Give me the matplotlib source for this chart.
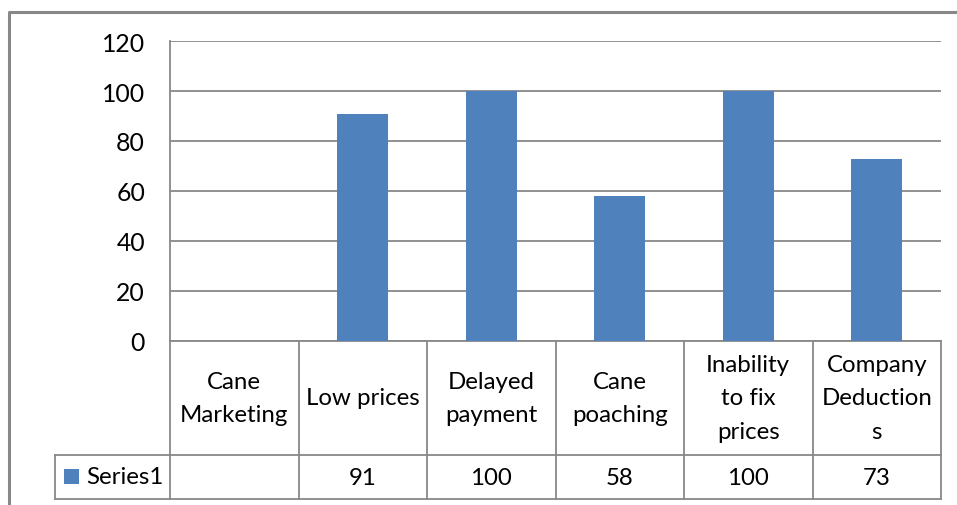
import matplotlib
matplotlib.use("Agg")
import matplotlib.pyplot as plt
from matplotlib.transforms import blended_transform_factory
from matplotlib.patches import Rectangle

# Chart data
categories = ["Cane\nMarketing", "Low prices", "Delayed\npayment",
              "Cane\npoaching", "Inability\nto fix\nprices", "Company\nDeduction\ns"]
values = [None, 91, 100, 58, 100, 73]
series_name = "Series1"
yticks = [0, 20, 40, 60, 80, 100, 120]

plt.rcParams['font.family'] = ['Lato', 'DejaVu Sans']

W, H = 957, 506
BAR = "#4F81BD"
GRID = "#888888"
FS = 17.3

fig = plt.figure(figsize=(W / 100, H / 100), dpi=100)


def fx(px):
    return px / W


def fy(py):
    return 1 - py / H


# Plot area
ax = fig.add_axes([fx(170), fy(342), fx(941) - fx(170), fy(42) - fy(342)])
ax.set_xlim(0, len(categories))
ax.set_ylim(0, 120)
ax.patch.set_visible(False)
centers = [i + 0.5 for i in range(len(categories))]
bx = [c for c, v in zip(centers, values) if v is not None]
bv = [v for v in values if v is not None]
ax.bar(bx, bv, width=0.4, color=BAR, zorder=3)
ax.set_yticks(yticks)
ax.yaxis.grid(True, color=GRID, lw=1.3)
ax.set_axisbelow(True)
ax.set_xticks([])
ax.tick_params(axis='y', length=0, pad=18, labelsize=FS + 0.5, colors="black")
for s in ("top", "right"):
    ax.spines[s].set_visible(False)
for s in ("left", "bottom"):
    ax.spines[s].set_color(GRID)
    ax.spines[s].set_linewidth(1.3)

# Overlay in pixel coordinates for the data table and chart border
over = fig.add_axes([0, 0, 1, 1], zorder=-1)
over.set_xlim(0, W)
over.set_ylim(H, 0)
over.axis("off")

tr = blended_transform_factory(ax.transData, over.transData)
legend_left = -(170 - 55) / 128.5  # legend column width in category units
head_top, head_bot, row_bot = 342, 456, 500

# Chart border (runs off the right and bottom edges)
over.plot([9, 9, W + 5], [H + 5, 13, 13], color=GRID, lw=2.2, solid_capstyle="butt")

# Table grid
n = len(categories)
for i in range(n + 1):
    over.plot([i, i], [head_top, row_bot], color=GRID, lw=1.3, transform=tr)
over.plot([legend_left, n], [head_bot, head_bot], color=GRID, lw=1.3, transform=tr)
over.plot([legend_left, n], [row_bot, row_bot], color=GRID, lw=1.3, transform=tr)
over.plot([legend_left, legend_left], [head_bot, row_bot], color=GRID, lw=1.3, transform=tr)

# Category headers and values
for c, label, v in zip(centers, categories, values):
    over.text(c, (head_top + head_bot) / 2, label, transform=tr, ha="center",
              va="center", fontsize=FS, linespacing=1.72, multialignment="center")
    over.text(c, (head_bot + row_bot) / 2 + 1, "" if v is None else str(v),
              transform=tr, ha="center", va="center", fontsize=FS)

# Legend key
over.add_patch(Rectangle((64, 470), 15, 15, facecolor=BAR, edgecolor="none"))
over.text(86, (head_bot + row_bot) / 2, series_name, ha="left", va="center", fontsize=FS)

fig.savefig("out.png", dpi=100)
